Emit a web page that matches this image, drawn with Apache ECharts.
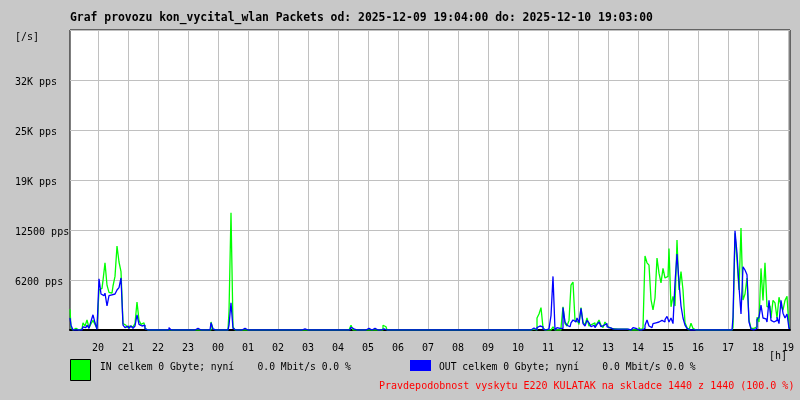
<!DOCTYPE html>
<html><head><meta charset="utf-8">
<script src="https://cdn.jsdelivr.net/npm/echarts@6/dist/echarts.min.js"></script>
<style>html,body{margin:0;padding:0;background:#c8c8c8}#c{width:800px;height:400px}</style>
</head><body><div id="c"></div>
<script>
const titleText = 'Graf provozu kon_vycital_wlan Packets od: 2025-12-09 19:04:00 do: 2025-12-10 19:03:00';
const unitY = '[/s]';
const unitX = '[h]';
const legendIn = 'IN celkem 0 Gbyte; nyní    0.0 Mbit/s 0.0 %';
const legendOut = 'OUT celkem 0 Gbyte; nyní    0.0 Mbit/s 0.0 %';
const footText = 'Pravdepodobnost vyskytu E220 KULATAK na skladce 1440 z 1440 (100.0 %)';
const xTickLabels = ['20','21','22','23','00','01','02','03','04','05','06','07','08','09','10','11','12','13','14','15','16','17','18','19'];
const yTickLabels = ['', '6200 pps', '12500 pps', '19K pps', '25K pps', '32K pps', ''];
// one sample every 4 minutes from 19:04, packets per second
const inValues = [
2600,300,0,200,0,0,150,900,500,1250,
300,800,1200,700,200,5000,5200,6200,8400,5600,
4700,4600,5500,6700,10500,8500,7300,800,600,300,
500,400,300,800,3500,1200,700,900,200,0,
0,0,0,0,0,0,0,0,0,0,
0,0,0,0,0,0,0,0,0,0,
0,0,0,0,0,0,0,0,0,0,
0,1000,100,0,0,0,0,0,0,0,
2300,14650,400,0,0,0,0,0,0,0,
0,0,0,0,0,0,0,0,0,0,
0,0,0,0,0,0,0,0,0,0,
0,0,0,0,0,0,0,0,0,0,
0,0,0,0,0,0,0,0,0,0,
0,0,0,0,0,0,0,0,0,0,
0,600,0,0,0,0,0,0,0,0,
0,0,0,0,0,0,0,600,400,0,
0,0,0,0,0,0,0,0,0,0,
0,0,0,0,0,0,0,0,0,0,
0,0,0,0,0,0,0,0,0,0,
0,0,0,0,0,0,0,0,0,0,
0,0,0,0,0,0,0,0,0,0,
0,0,0,0,0,0,0,0,0,0,
0,0,0,0,0,0,0,0,0,0,
0,0,100,0,1500,2000,2800,300,0,0,
0,200,400,0,0,0,300,2900,800,500,
1200,5600,6000,1200,1000,700,2800,1000,600,1500,
500,700,900,500,800,1250,600,300,1000,600,
300,200,150,100,100,100,100,100,100,100,
0,0,0,0,0,300,0,300,9250,8400,
8100,3800,2500,4000,9000,7100,5900,7700,6500,6700,
10200,2900,4200,3000,11250,5000,7300,5000,900,300,
0,850,200,0,0,0,0,0,0,0,
0,0,0,0,0,0,0,0,0,0,
0,0,300,12100,8750,5000,12750,3750,4500,6500,
1250,200,200,400,1600,1000,7700,3700,8400,2900,
3000,1500,3700,3400,1500,4100,3000,2500,3700,4200,
300
];
const outValues = [
1500,600,0,0,0,0,0,400,300,600,
200,1100,1900,900,100,6400,4500,4300,4600,3000,
4300,4400,4500,4600,5000,5300,6500,600,300,500,
200,500,200,500,1900,700,500,600,150,0,
0,0,0,0,0,0,0,0,0,0,
300,0,0,0,0,0,0,0,0,0,
0,0,0,0,200,0,0,0,0,0,
0,900,100,0,0,0,0,0,0,0,
600,3400,200,0,0,0,0,200,0,0,
0,0,0,0,0,0,0,0,0,0,
0,0,0,0,0,0,0,0,0,0,
0,0,0,0,0,0,0,150,0,0,
0,0,0,0,0,0,0,0,0,0,
0,0,0,0,0,0,0,0,0,0,
0,350,150,0,0,0,0,0,0,200,
0,0,200,0,0,0,0,150,0,0,
0,0,0,0,0,0,0,0,0,0,
0,0,0,0,0,0,0,0,0,0,
0,0,0,0,0,0,0,0,0,0,
0,0,0,0,0,0,0,0,0,0,
0,0,0,0,0,0,0,0,0,0,
0,0,0,0,0,0,0,0,0,0,
0,0,0,0,0,0,0,0,0,0,
0,0,250,0,300,500,400,100,0,150,
0,1800,6700,0,300,200,200,2800,1000,600,
400,900,1250,1000,1500,900,2700,800,500,1200,
900,400,600,300,700,1000,400,600,800,400,
300,150,100,100,100,100,100,100,100,100,
0,150,300,200,0,0,0,200,600,1250,
500,300,800,900,1000,900,1200,1000,1300,1700,
1000,1500,800,5900,9500,6000,3000,1500,600,200,
0,0,0,0,0,0,0,0,0,0,
0,0,0,0,0,0,0,0,0,0,
0,0,1600,12400,9600,5400,2000,7900,7500,6900,
1000,100,0,200,1300,1600,3100,1500,1400,1000,
3700,1200,1000,1200,1600,800,3700,2100,1500,2000,
200
];

const startMin = 19 * 60 + 4, stepMin = 4;
const categories = inValues.map((_, i) => {
  const m = (startMin + i * stepMin) % 1440;
  return String(Math.floor(m / 60)).padStart(2, '0') + ':' + String(m % 60).padStart(2, '0');
});
const isHour = (i) => categories[i] && categories[i].endsWith(':00');
const hourIndexOf = (i) => categories.slice(0, i + 1).filter(c => c.endsWith(':00')).length - 1;

const FONT = 'DejaVu Sans Mono';
const chart = echarts.init(document.getElementById('c'), null, {renderer: 'canvas'});
chart.setOption({
  animation: false,
  backgroundColor: '#c8c8c8',
  textStyle: {fontFamily: FONT, color: '#000'},
  grid: {left: 70, top: 30, width: 720, height: 300, show: true, backgroundColor: '#ffffff', borderColor: '#000', borderWidth: 1},
  xAxis: {
    type: 'category', data: categories, boundaryGap: false,
    axisLine: {show: true, lineStyle: {color: '#000', width: 2}},
    axisTick: {show: false},
    axisLabel: {interval: (i) => isHour(i), formatter: (v, i) => xTickLabels[hourIndexOf(i)], fontFamily: FONT, fontSize: 10, color: '#000', margin: 13},
    splitLine: {show: true, interval: (i) => isHour(i), lineStyle: {color: '#c0c0c0', width: 1}}
  },
  yAxis: {
    type: 'value', min: 0, max: 37500, interval: 6250,
    axisLine: {show: false}, axisTick: {show: false},
    axisLabel: {
      formatter: (v) => { const t = yTickLabels[Math.round(v / 6250)]; return t ? '{a|' + t + '}' : ''; },
      align: 'left', margin: 55, fontFamily: FONT, fontSize: 10, color: '#000',
      rich: {a: {fontFamily: FONT, fontSize: 10, color: '#000', padding: [4, 0, 0, 0]}}
    },
    splitLine: {show: true, lineStyle: {color: '#c0c0c0', width: 1}}
  },
  series: [
    {name: 'IN', type: 'line', data: inValues, step: 'middle', symbol: 'none', lineStyle: {color: '#00ff00', width: 1.3}, z: 2},
    {name: 'OUT', type: 'line', data: outValues, step: 'middle', symbol: 'none', lineStyle: {color: '#0000ff', width: 1.3}, z: 3}
  ],
  graphic: [
    {type: 'text', left: 70, top: 13, style: {text: titleText, font: 'bold 11.4px "DejaVu Sans Mono"', fill: '#000'}},
    {type: 'text', left: 15, top: 32, style: {text: unitY, font: '10px "DejaVu Sans Mono"', fill: '#000'}},
    {type: 'text', left: 769, top: 351, style: {text: unitX, font: '10px "DejaVu Sans Mono"', fill: '#000'}},
    {type: 'rect', shape: {x: 70.5, y: 359.5, width: 20, height: 21}, style: {fill: '#00ff00', stroke: '#000', lineWidth: 1}},
    {type: 'text', left: 100, top: 362, style: {text: legendIn, font: '9.7px "DejaVu Sans Mono"', fill: '#000'}},
    {type: 'rect', shape: {x: 410, y: 360, width: 21, height: 11}, style: {fill: '#0000ff'}},
    {type: 'text', left: 439, top: 362, style: {text: legendOut, font: '9.7px "DejaVu Sans Mono"', fill: '#000'}},
    {type: 'text', left: 379, top: 381, style: {text: footText, font: '10px "DejaVu Sans Mono"', fill: '#ff0000'}}
  ]
});
</script></body></html>
